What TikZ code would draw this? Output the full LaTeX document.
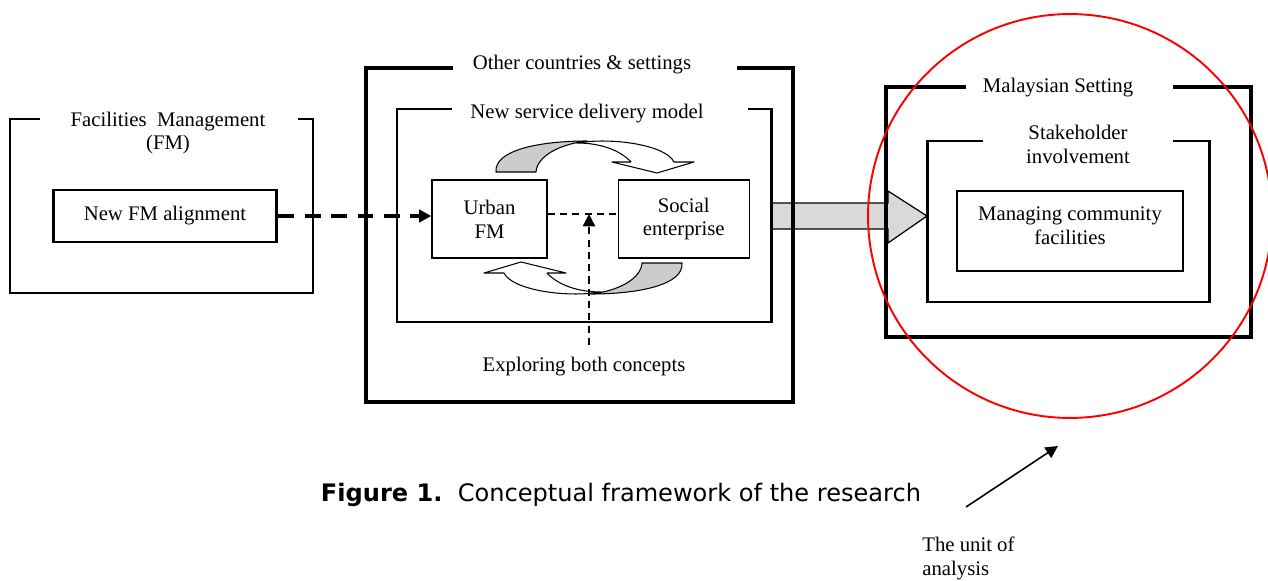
\documentclass[tikz,border=0pt]{standalone}
\usepackage{fontspec}
\setmainfont{Liberation Serif}
\newfontfamily\capfont{DejaVu Sans}
\usepackage{tikz}
\usetikzlibrary{arrows.meta,positioning}

\begin{document}
\begin{tikzpicture}[
    x=0.02cm, y=-0.02cm,
    txt/.style={font=\fontsize{11.8}{13.6}\selectfont, align=center, inner sep=0pt},
    thinbox/.style={draw, line width=0.7pt, txt, minimum width=2.3cm, minimum height=1.56cm},
    frame/.style={line width=0.7pt},
    heavy/.style={line width=1.7pt},
    heavier/.style={line width=2.3pt},
    curl/.style={draw=black, line width=0.6pt, line join=round},
    tip/.style={-{Triangle[length=7pt,width=7pt]}}
]
\useasboundingbox (0,0) rectangle (1268,581);

% big gray arrow
\fill[gray!30] (773,203) -- (888,203) -- (888,191) -- (927,216) -- (888,243) -- (888,229) -- (773,229) -- cycle;
\draw[line width=0.7pt] (773,203) -- (888,203) -- (888,191) -- (927,216) -- (888,243) -- (888,229) -- (773,229);

% frames
\draw[frame] (40,119) -- (10,119) -- (10,293) -- (313,293) -- (313,119) -- (298,119);
\draw[heavier] (453,68) -- (366,68) -- (366,402) -- (793,402) -- (793,68) -- (737,68);
\draw[heavy] (452,109) -- (397,109) -- (397,322) -- (771,322) -- (771,109) -- (748,109);
\draw[heavier] (966,87) -- (886,87) -- (886,337) -- (1251,337) -- (1251,87) -- (1173,87);
\draw[heavy] (983,141) -- (927,141) -- (927,302) -- (1209,302) -- (1209,141) -- (1173,141);

\node[txt] (fmtitle) at (168,133) {Facilities\ \ Management\\(FM)};
\node[txt] (othertitle) at (582,65) {Other countries \& settings};
\node[txt] (modeltitle) at (587,114) {New service delivery model};
\node[txt] (mytitle) at (1058,88) {Malaysian Setting};
\node[txt] (stktitle) at (1078,144) {Stakeholder\\involvement};

\node[thinbox, heavy, minimum width=4.48cm, minimum height=1.04cm] (align) at (165,216) {New FM alignment};
\node[thinbox] (urban) at (489.5,219) {Urban\\FM};
\node[thinbox, minimum width=2.62cm, right=1.4cm of urban] (social) {Social\\enterprise};
\node[thinbox, line width=1.1pt, minimum width=4.52cm, minimum height=1.6cm] (managing) at (1070,231) {};
\node[txt] (managingtext) at (1070,226) {Managing community\\facilities};
\node[txt] (explore) at (584,367) {Exploring both concepts};

% curved arrows
\foreach \ang in {0,180} {
  \begin{scope}[rotate around={\ang:(589,217.5)}]
    \path[fill=gray!40, curl] (496,172) .. controls (494,150) and (540,141) .. (587,141) .. controls (560,144) and (537,156) .. (536,172) -- cycle;
    \path[fill=white, curl] (577,143) .. controls (612,137) and (666,145) .. (674,162) -- (694,162) -- (657,173) -- (612,162) -- (631,162) .. controls (620,150) and (600,143) .. (577,143) -- cycle;
  \end{scope}
}

\draw[tip, line width=2pt, dash pattern=on 9pt off 6pt] (align.east) -- (align.east -| urban.west);
\draw[line width=0.8pt, dash pattern=on 4pt off 3pt] ([yshift=2.8pt]urban.east) -- ([yshift=2.8pt]social.west);
\coordinate (meet) at (589,214);
\draw[tip, line width=0.8pt, dash pattern=on 4pt off 3pt] (meet |- 0,345) -- (meet);

\draw[red, line width=1.1pt] (1070,216) circle[radius=4.04cm];

\node[font=\capfont\fontsize{13.7}{16}\selectfont, inner sep=0pt] (caption) at (621,495) {\textbf{Figure 1.}\ \ Conceptual framework of the research};
\node[txt, align=left, anchor=west] (unit) at (922,558) {The unit of\\analysis};
\coordinate (unitfrom) at (966,507);
\coordinate (unitto) at (1058,446);
\draw[tip, line width=0.9pt] (unitfrom) -- (unitto);
\end{tikzpicture}
\end{document}
